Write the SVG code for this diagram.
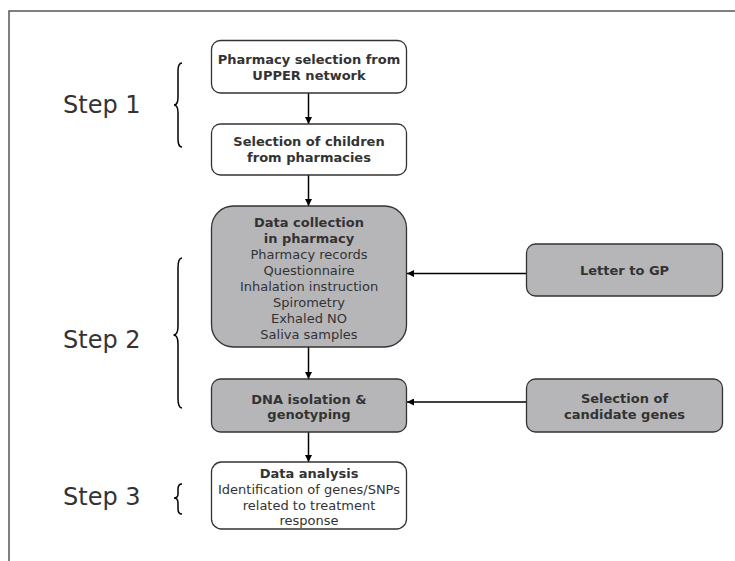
<svg xmlns="http://www.w3.org/2000/svg" width="735" height="561" viewBox="0 0 735 561">
<defs>
<marker id="ah" viewBox="0 0 10 10" refX="10" refY="5" markerWidth="7" markerHeight="7" markerUnits="userSpaceOnUse" orient="auto">
<path d="M0,0 L10,5 L0,10 z" fill="#000"/>
</marker>
<style>
.box{stroke:#333;stroke-width:1.3}
.w{fill:#fff}
.g{fill:#b6b6b9}
.b{font-family:"DejaVu Sans",Verdana,sans-serif;font-size:13px;font-weight:bold;fill:#333;text-anchor:middle}
.r{font-family:"DejaVu Sans",Verdana,sans-serif;font-size:13px;fill:#333;text-anchor:middle}
.step{font-family:"DejaVu Sans",Verdana,sans-serif;font-size:24px;fill:#333}
.con{stroke:#000;stroke-width:1.5;fill:none}
.brace{stroke:#000;stroke-width:1.5;fill:none}
</style>
</defs>
<rect width="735" height="561" fill="#fff"/>
<path d="M9,561 L9,11 L735,11" fill="none" stroke="#555" stroke-width="1.5"/>

<g id="steps">
<text class="step" x="63" y="113">Step 1</text>
<text class="step" x="63" y="348">Step 2</text>
<text class="step" x="63" y="505">Step 3</text>
<path class="brace" d="M182,63 C179,63 178,66 178,71 L178,97 C178,102 177,105 174,105 C177,105 178,108 178,113 L178,139 C178,144 179,147 182,147"/>
<path class="brace" d="M182,258 C179,258 178,261 178,268 L178,326 C178,332 177,335 173.5,335 C177,335 178,338 178,344 L178,398 C178,405 179,408 182,408"/>
<path class="brace" d="M182,484 C179,484 178,486 178,489 L178,494 C178,497 177,498 174,498 C177,498 178,500 178,503 L178,509 C178,512 179,514 182,514"/>
</g>

<g id="connectors">
<line class="con" x1="308.5" y1="93" x2="308.5" y2="124" marker-end="url(#ah)"/>
<line class="con" x1="308.5" y1="175" x2="308.5" y2="206" marker-end="url(#ah)"/>
<line class="con" x1="308.5" y1="347" x2="308.5" y2="379" marker-end="url(#ah)"/>
<line class="con" x1="308.5" y1="432" x2="308.5" y2="462" marker-end="url(#ah)"/>
<line class="con" x1="526.5" y1="273.5" x2="407" y2="273.5" marker-end="url(#ah)"/>
<line class="con" x1="526.5" y1="402" x2="407" y2="402" marker-end="url(#ah)"/>
</g>

<g id="n1">
<rect class="box w" x="211.5" y="40.5" width="195" height="52.5" rx="9"/>
<text class="b" x="309" y="63.5">Pharmacy selection from</text>
<text class="b" x="309" y="79.5">UPPER network</text>
</g>

<g id="n2">
<rect class="box w" x="211.5" y="124" width="195" height="51" rx="9"/>
<text class="b" x="309" y="146">Selection of children</text>
<text class="b" x="309" y="162">from pharmacies</text>
</g>

<g id="n3">
<rect class="box g" x="211.5" y="206" width="195" height="141" rx="22"/>
<text class="b" x="309" y="227">Data collection</text>
<text class="b" x="309" y="243">in pharmacy</text>
<text class="r" x="309" y="259">Pharmacy records</text>
<text class="r" x="309" y="275">Questionnaire</text>
<text class="r" x="309" y="291">Inhalation instruction</text>
<text class="r" x="309" y="307">Spirometry</text>
<text class="r" x="309" y="323">Exhaled NO</text>
<text class="r" x="309" y="339">Saliva samples</text>
</g>

<g id="n4">
<rect class="box g" x="211.5" y="379" width="195" height="53" rx="9"/>
<text class="b" x="309" y="404">DNA isolation &amp;</text>
<text class="b" x="309" y="419">genotyping</text>
</g>

<g id="n5">
<rect class="box w" x="211.5" y="462" width="195" height="67" rx="10"/>
<text class="b" x="309" y="478">Data analysis</text>
<text class="r" x="309" y="494">Identification of genes/SNPs</text>
<text class="r" x="309" y="509.5">related to treatment</text>
<text class="r" x="309" y="525">response</text>
</g>

<g id="n6">
<rect class="box g" x="526.5" y="244" width="196" height="52" rx="9"/>
<text class="b" x="624.5" y="275">Letter to GP</text>
</g>

<g id="n7">
<rect class="box g" x="526.5" y="379" width="196" height="53" rx="9"/>
<text class="b" x="624.5" y="403">Selection of</text>
<text class="b" x="624.5" y="419">candidate genes</text>
</g>
</svg>
